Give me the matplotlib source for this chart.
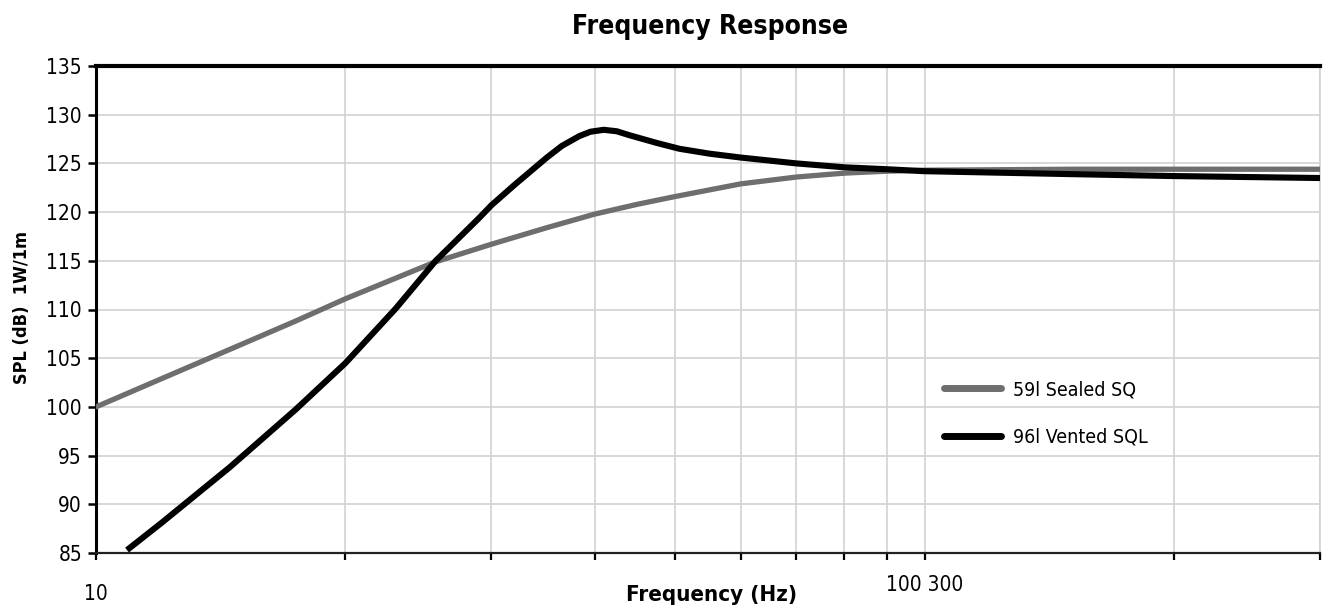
import matplotlib
matplotlib.use("Agg")
import matplotlib.pyplot as plt
from matplotlib import font_manager
from matplotlib.transforms import ScaledTranslation

# ------------------------------------------------------------
# Donnees
# ------------------------------------------------------------
freq_sealed = [10, 12, 14.5, 17.4, 20, 25.7, 30, 35, 40, 45, 50, 60, 70, 80, 90, 100, 150, 200, 300]
spl_sealed = [100.0, 102.9, 105.9, 108.8, 111.1, 114.9, 116.7, 118.4, 119.8, 120.8, 121.6,
              122.9, 123.6, 124.0, 124.2, 124.3, 124.4, 124.4, 124.4]

freq_vented = [10.9, 12, 14.5, 17.4, 20, 23, 25.7, 29, 30, 32, 35, 36.5, 38.3, 39.5, 41, 42.5,
               44, 47.5, 50.6, 55, 60, 70, 80, 90, 100, 150, 200, 300]
spl_vented = [85.3, 88.1, 93.8, 99.7, 104.5, 110.1, 115.0, 119.4, 120.7, 122.8, 125.6, 126.8,
              127.8, 128.25, 128.45, 128.3, 127.9, 127.1, 126.5, 126.0, 125.6, 125.0, 124.6,
              124.4, 124.2, 123.9, 123.7, 123.5]

labels = ["59l Sealed SQ", "96l Vented SQL"]
y_ticks = list(range(85, 136, 5))
x_grid = [20, 30, 40, 50, 60, 70, 80, 90, 200, 300]

# police etroite si disponible
noms = {f.name for f in font_manager.fontManager.ttflist}
if "Liberation Sans Narrow" in noms:
    FONT = ["Liberation Sans Narrow", "DejaVu Sans"]
    STRETCH = "normal"
else:
    FONT = ["DejaVu Sans"]
    STRETCH = "condensed"
plt.rcParams["font.family"] = FONT

GRID = "#d2d2d2"

fig = plt.figure(figsize=(13.29, 6.15), dpi=100)
ax = fig.add_axes([96 / 1329, 1 - 553 / 615, 1224 / 1329, 487 / 615])

ax.plot(freq_sealed, spl_sealed, color="#6e6e6e", linewidth=3.8, solid_capstyle="round",
        solid_joinstyle="round", label=labels[0], zorder=3)
ax.plot(freq_vented, spl_vented, color="black", linewidth=4.4, solid_capstyle="butt",
        solid_joinstyle="round", label=labels[1], zorder=4)

ax.set_xscale("log")
ax.set_xlim(10, 300)
ax.set_ylim(85, 135)

ax.set_yticks(y_ticks)
ax.set_xticks([10, 100])
ax.set_xticklabels(["10", "100 300"])
ax.set_xticks(x_grid, minor=True)
ax.set_xticklabels([], minor=True)

ax.grid(True, which="both", axis="x", color=GRID, linewidth=1.2, zorder=0)
ax.grid(True, which="major", axis="y", color=GRID, linewidth=1.2, zorder=0)
ax.set_axisbelow(True)

ax.tick_params(axis="y", direction="out", length=6, width=1.8, pad=4, labelsize=15, colors="black")
ax.tick_params(axis="x", which="both", direction="out", length=5, width=1.6, pad=11,
               labelsize=15, colors="black")
for lab in ax.get_yticklabels() + ax.get_xticklabels():
    lab.set_fontstretch(STRETCH)

# le "10" est un peu plus bas que "100 300"
lab10 = ax.get_xticklabels()[0]
lab10.set_transform(lab10.get_transform() + ScaledTranslation(0, -6 / 72, fig.dpi_scale_trans))

ax.spines["top"].set_linewidth(3.0)
ax.spines["left"].set_linewidth(2.2)
ax.spines["bottom"].set_linewidth(1.6)
ax.spines["bottom"].set_color("#222222")
ax.spines["right"].set_color(GRID)
ax.spines["right"].set_linewidth(1.2)

leg = ax.legend(loc="upper left", bbox_to_anchor=(0.693, 0.355), frameon=False, fontsize=14,
                handlelength=2.9, handletextpad=0.65, labelspacing=1.45, borderpad=0,
                borderaxespad=0)
for line in leg.get_lines():
    line.set_linewidth(5)
    line.set_solid_capstyle("round")
for t in leg.get_texts():
    t.set_fontstretch(STRETCH)

fig.text(710 / 1329, 1 - 27 / 615, "Frequency Response", ha="center", va="center",
         fontsize=19, fontweight="heavy", fontstretch=STRETCH)
fig.text(712 / 1329, 1 - 595 / 615, "Frequency (Hz)", ha="center", va="center",
         fontsize=16, fontweight="heavy", fontstretch=STRETCH)
fig.text(22 / 1329, 1 - 308 / 615, "SPL (dB)  1W/1m", ha="center", va="center",
         rotation=90, fontsize=13, fontweight="heavy", fontstretch=STRETCH)

fig.savefig("out.png", dpi=100, facecolor="white")
